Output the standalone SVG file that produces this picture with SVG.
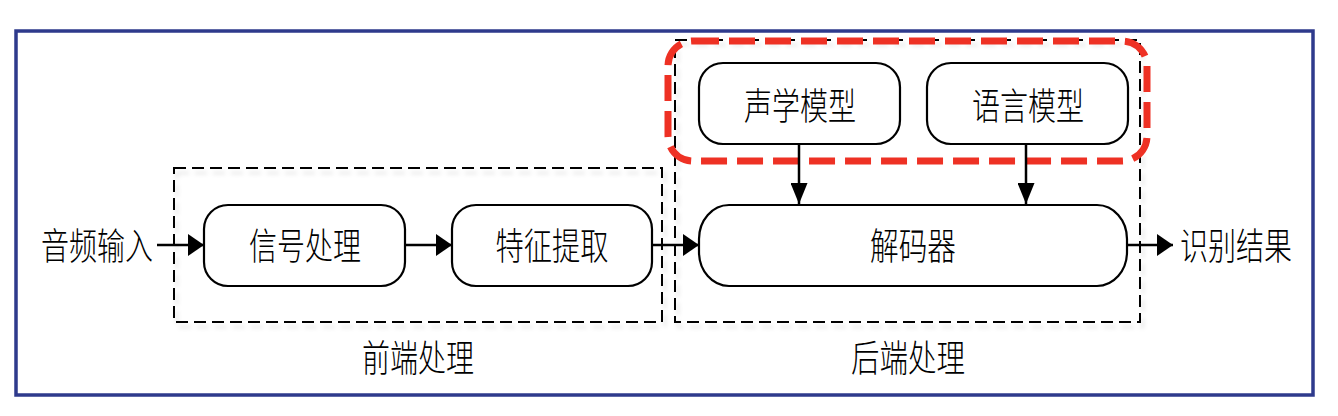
<svg xmlns="http://www.w3.org/2000/svg" width="1338" height="416" viewBox="0 0 1338 416">
<defs>
<style>
.frame{fill:none;stroke:#2e3a8c;stroke-width:3.5}
.grp{fill:none;stroke:#000;stroke-width:2;stroke-dasharray:12 6}
.red{fill:none;stroke:#ee3124;stroke-width:7;stroke-dasharray:26 10}
.node{fill:#fff;stroke:#000;stroke-width:2.2}
.lbl{font-family:"Noto Sans CJK SC","Noto Sans",sans-serif;font-size:37px;font-weight:300;fill:#000;text-anchor:middle;dominant-baseline:central}
.edge{fill:none;stroke:#000;stroke-width:2.5}
</style>
<filter id="sh" x="-5%" y="-5%" width="110%" height="115%">
<feGaussianBlur in="SourceAlpha" stdDeviation="2"/>
<feOffset dx="3" dy="5" result="b"/>
<feFlood flood-color="#000" flood-opacity="0.12"/>
<feComposite in2="b" operator="in"/>
<feMerge><feMergeNode/><feMergeNode in="SourceGraphic"/></feMerge>
</filter>
<marker id="ah" viewBox="0 0 16 22" refX="16" refY="11" markerWidth="16" markerHeight="22" markerUnits="userSpaceOnUse" orient="auto">
<path d="M0,0 L16,11 L0,22 Z" fill="#000"/>
</marker>
<marker id="av" viewBox="0 0 21 17" refX="21" refY="8.5" markerWidth="21" markerHeight="17" markerUnits="userSpaceOnUse" orient="auto">
<path d="M0,0 L21,8.5 L0,17 Z" fill="#000"/>
</marker>
</defs>
<rect x="0" y="0" width="1338" height="416" fill="#fff"/>
<rect class="frame" x="16" y="31" width="1297" height="364"/>

<g id="frontend">
<rect class="grp" x="174" y="168" width="488" height="154" filter="url(#sh)"/>
<text class="lbl" x="418" y="356" textLength="112" lengthAdjust="spacingAndGlyphs">前端处理</text>
</g>
<g id="backend">
<rect class="grp" x="675" y="40" width="465" height="282" filter="url(#sh)"/>
<text class="lbl" x="908" y="356" textLength="114" lengthAdjust="spacingAndGlyphs">后端处理</text>
</g>
<g id="models">
<rect class="red" x="668" y="41" width="479" height="120" rx="25" ry="25"/>
</g>

<g id="input"><text class="lbl" x="97" y="244" textLength="112" lengthAdjust="spacingAndGlyphs">音频输入</text></g>
<g id="signal">
<rect class="node" x="204" y="205" width="201" height="81" rx="24" ry="24"/>
<text class="lbl" x="305" y="244" textLength="112" lengthAdjust="spacingAndGlyphs">信号处理</text>
</g>
<g id="feature">
<rect class="node" x="452" y="205" width="200" height="81" rx="24" ry="24"/>
<text class="lbl" x="552" y="244" textLength="113" lengthAdjust="spacingAndGlyphs">特征提取</text>
</g>
<g id="decoder">
<rect class="node" x="699" y="205" width="428" height="81" rx="30" ry="34"/>
<text class="lbl" x="913" y="244" textLength="86" lengthAdjust="spacingAndGlyphs">解码器</text>
</g>
<g id="acoustic">
<rect class="node" x="699" y="63" width="201" height="81" rx="24" ry="24"/>
<text class="lbl" x="800" y="104" textLength="112" lengthAdjust="spacingAndGlyphs">声学模型</text>
</g>
<g id="language">
<rect class="node" x="927" y="63" width="201" height="81" rx="24" ry="24"/>
<text class="lbl" x="1028" y="104" textLength="112" lengthAdjust="spacingAndGlyphs">语言模型</text>
</g>
<g id="result"><text class="lbl" x="1236" y="244" textLength="112" lengthAdjust="spacingAndGlyphs">识别结果</text></g>

<g id="connectors">
<line class="edge" x1="157" y1="245" x2="204" y2="245" marker-end="url(#ah)"/>
<line class="edge" x1="405" y1="245" x2="452" y2="245" marker-end="url(#ah)"/>
<line class="edge" x1="652" y1="245" x2="699" y2="245" marker-end="url(#ah)"/>
<line class="edge" x1="1127" y1="245" x2="1173" y2="245" marker-end="url(#ah)"/>
<line class="edge" x1="799" y1="144" x2="799" y2="204" marker-end="url(#av)"/>
<line class="edge" x1="1026" y1="144" x2="1026" y2="204" marker-end="url(#av)"/>
</g>
</svg>
